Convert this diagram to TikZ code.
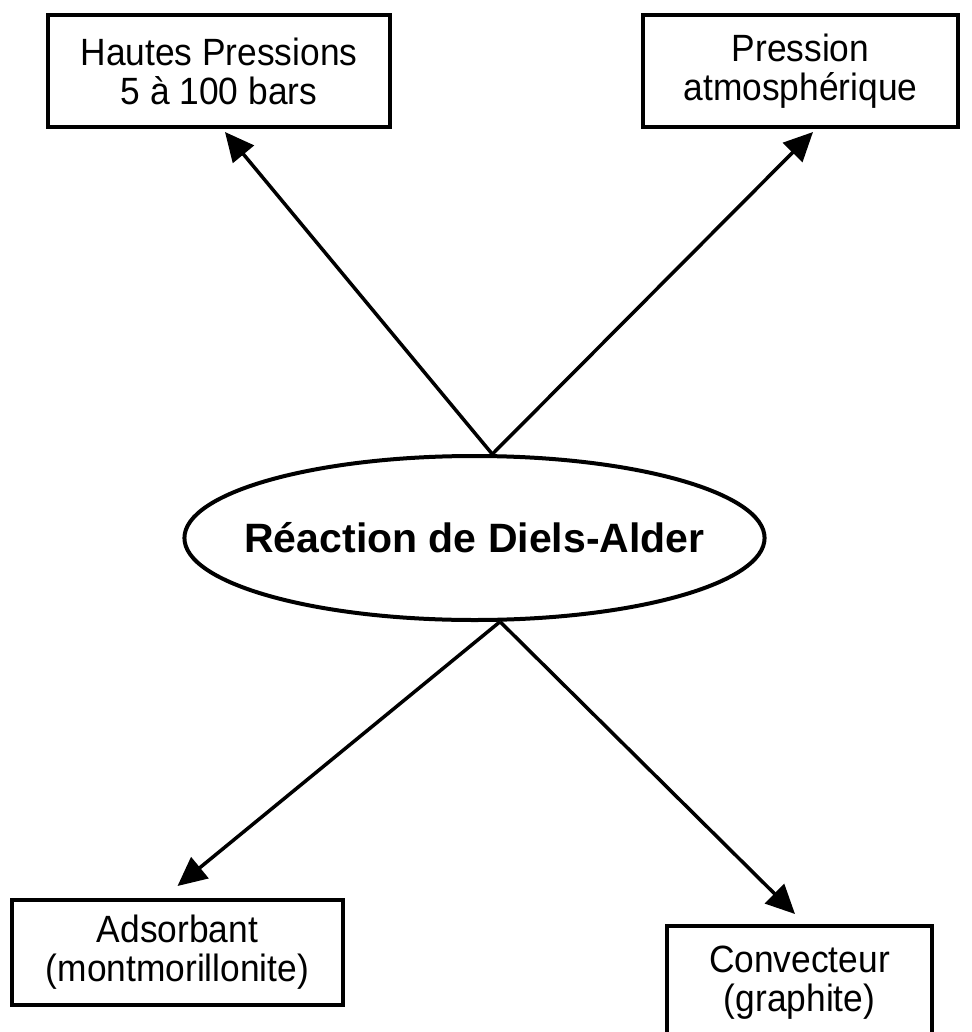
\documentclass[tikz,border=0pt]{standalone}
\usepackage{fontspec}
\setmainfont{Liberation Sans}
\newfontfamily\boxfont[FakeStretch=0.93]{Liberation Sans}
\usepackage{tikz}
\usetikzlibrary{arrows.meta}
\usetikzlibrary{shapes.geometric}
\tikzstyle{condbox}=[draw,line width=4pt,inner sep=0pt,align=center,font=\boxfont\fontsize{38}{39}\selectfont]
\tikzstyle{reac}=[ellipse,draw,line width=4pt,inner xsep=-25pt,inner ysep=0pt,minimum width=578pt,minimum height=164pt,font=\bfseries\fontsize{41}{44}\selectfont]
\tikzstyle{cv}=[line width=3.5pt,-{Triangle[length=29pt,width=27pt]}]

\begin{document}
\begin{tikzpicture}[x=1pt,y=-1pt]
	\useasboundingbox (0,0) rectangle (971,1032);
	\node[reac] (DA) at (474.5,538) {Réaction de Diels-Alder};
	\node[condbox,minimum width=342pt,minimum height=112pt] (HP) at (219,71) {Hautes Pressions\\5 à 100 bars};
	\node[condbox,minimum width=315pt,minimum height=112pt] (PA) at (800.5,71) {Pression\\atmosphérique};
	\node[condbox,minimum width=331pt,minimum height=105pt] (AD) at (177.5,952.5) {Adsorbant\\(montmorillonite)};
	\node[condbox,minimum width=265pt,minimum height=114pt] (CO) at (799.5,983) {Convecteur\\(graphite)};
	\draw[cv] (DA.78)  -- ([xshift=6pt,yshift=-3pt]HP.south);
	\draw[cv] (DA.78)  -- ([xshift=12.5pt,yshift=-3pt]PA.south);
	\draw[cv] (DA.287) -- ([yshift=12pt]AD.north);
	\draw[cv] (DA.287) -- ([xshift=-4.5pt,yshift=10pt]CO.north);
\end{tikzpicture}
\end{document}
